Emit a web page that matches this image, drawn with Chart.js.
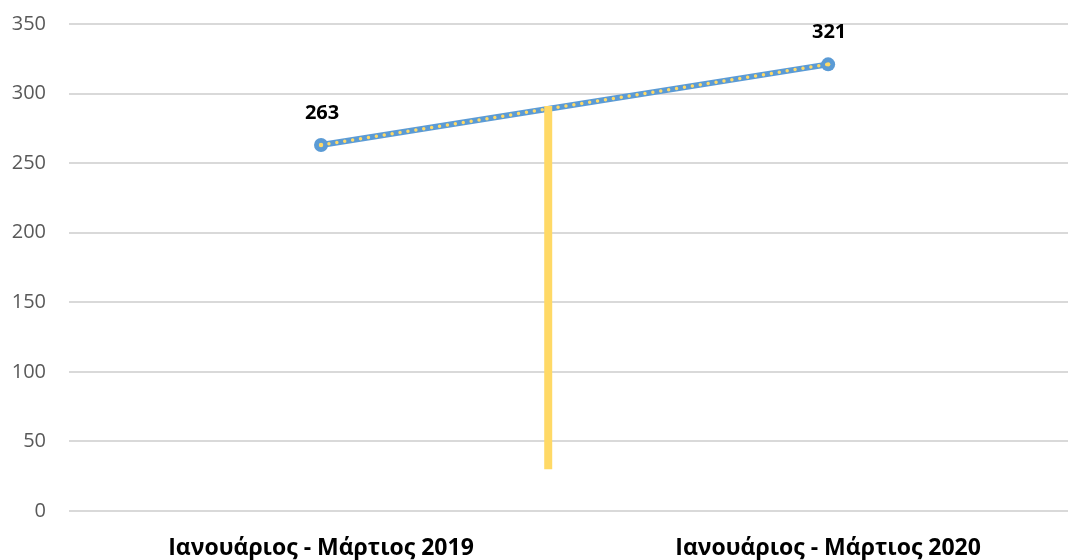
<!DOCTYPE html>
<html>
<head>
<meta charset="utf-8">
<script src="https://cdn.jsdelivr.net/npm/chart.js@4.4.1/dist/chart.umd.min.js"></script>
<style>
  html, body { margin: 0; padding: 0; background: #fff; overflow: hidden; }
  #wrap { width: 1069px; height: 560px; }
</style>
</head>
<body>
<div id="wrap"><canvas id="chart"></canvas></div>
<script>
// data
var categories = ["Ιανουάριος - Μάρτιος 2019", "Ιανουάριος - Μάρτιος 2020"];
var values = [263, 321];
var yTicks = [0, 50, 100, 150, 200, 250, 300, 350];
// the yellow vertical bar: position on the category axis, low and high values
var barX = 0.448;
var barRange = [30, 291];

var blue = '#5B9BD5';
var yellow = '#FFD966';

var linePoints = values.map(function (v, i) { return { x: i, y: v }; });
var barPoints = barRange.map(function (v) { return { x: barX, y: v }; });

// draws the bold numbers above each point
var valueLabels = {
  id: 'valueLabels',
  afterDatasetsDraw: function (chart) {
    var meta = chart.getDatasetMeta(2);
    var ctx = chart.ctx;
    ctx.save();
    ctx.font = 'bold 20px "Open Sans"';
    ctx.fillStyle = '#000';
    ctx.textAlign = 'center';
    ctx.textBaseline = 'middle';
    meta.data.forEach(function (pt, i) {
      ctx.fillText(values[i], pt.x + 1, pt.y - 32);
    });
    ctx.restore();
  }
};

new Chart(document.getElementById('chart'), {
  type: 'line',
  data: {
    datasets: [{
      data: barPoints,
      borderColor: yellow,
      borderWidth: 8,
      borderCapStyle: 'butt',
      pointRadius: 0
    }, {
      data: linePoints,
      borderColor: yellow,
      borderWidth: 3.5,
      borderDash: [0, 8],
      borderCapStyle: 'round',
      pointRadius: 2.2,
      pointBackgroundColor: yellow,
      pointBorderWidth: 0
    }, {
      data: linePoints,
      borderColor: blue,
      borderWidth: 6,
      pointRadius: 7,
      pointBackgroundColor: blue,
      pointBorderWidth: 0
    }]
  },
  options: {
    responsive: true,
    maintainAspectRatio: false,
    animation: false,
    layout: { autoPadding: false, padding: { top: 24, right: 1, left: 0, bottom: 0 } },
    plugins: {
      legend: { display: false },
      tooltip: { enabled: false }
    },
    scales: {
      x: {
        type: 'linear',
        min: -0.497,
        max: 1.473,
        grid: { display: false, drawTicks: false },
        border: { display: false },
        afterBuildTicks: function (scale) {
          scale.ticks = categories.map(function (c, i) { return { value: i }; });
        },
        afterFit: function (scale) {
          scale.height = 49;
          scale.paddingLeft = 0;
          scale.paddingRight = 0;
        },
        ticks: {
          autoSkip: false,
          maxRotation: 0,
          padding: 24,
          color: '#000',
          font: { family: '"Open Sans"', size: 23, weight: 'bold' },
          callback: function (v) { return categories[v]; }
        }
      },
      y: {
        min: 0,
        max: 350,
        grid: { color: '#D9D9D9', lineWidth: 2, drawTicks: false },
        border: { display: false },
        afterBuildTicks: function (scale) {
          scale.ticks = yTicks.map(function (t) { return { value: t }; });
        },
        afterFit: function (scale) {
          scale.width = 69;
          scale.paddingTop = 0;
          scale.paddingBottom = 0;
        },
        ticks: {
          padding: 23,
          color: '#595959',
          font: { family: '"Open Sans"', size: 20 }
        }
      }
    }
  },
  plugins: [valueLabels]
});
</script>
</body>
</html>
